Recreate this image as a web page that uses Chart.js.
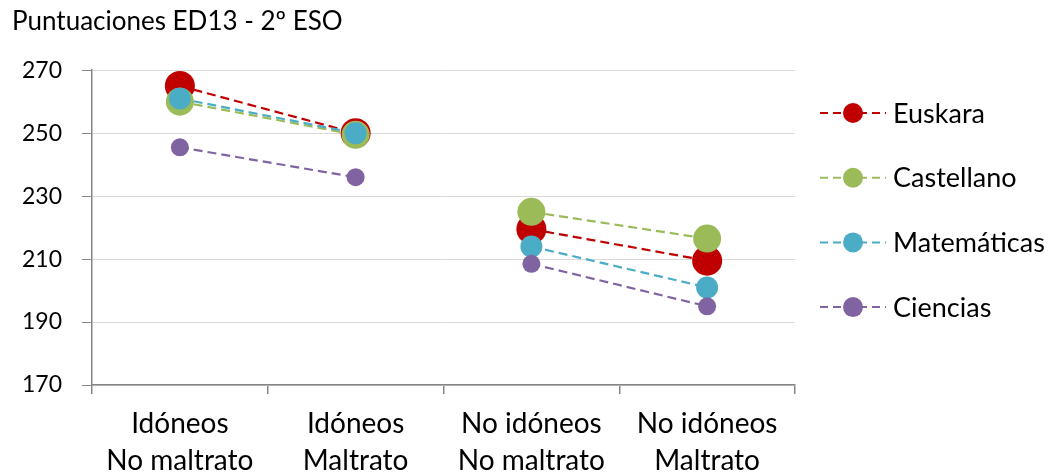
<!DOCTYPE html>
<html>
<head>
<meta charset="utf-8">
<script src="https://cdn.jsdelivr.net/npm/chart.js@4/dist/chart.umd.min.js"></script>
<style>
  html, body { margin: 0; padding: 0; background: #fff; }
</style>
</head>
<body>
<canvas id="chart" width="1054" height="475"></canvas>
<script>
const categories = [
    ['Idóneos', 'No maltrato'],
    ['Idóneos', 'Maltrato'],
    ['No idóneos', 'No maltrato'],
    ['No idóneos', 'Maltrato'],
];
const seriesNames = ['Euskara', 'Castellano', 'Matemáticas', 'Ciencias'];
const euskara = [265, 250, 219.5, 209.5];
const castellano = [260, 249.5, 225, 216.5];
const matematicas = [261, 250, 214, 201];
const ciencias = [245.5, 236, 208.5, 195];
const yTicks = [170, 190, 210, 230, 250, 270];

const colors = ['#C00000', '#9BBB59', '#4BACC6', '#8064A2'];
const radii = [15, 14, 11, 9];
const values = [euskara, castellano, matematicas, ciencias];

Chart.defaults.font.family = 'Lato';
Chart.defaults.color = '#000';

// legend with a dashed line and marker, drawn at the right
const sideLegend = {
    id: 'sideLegend',
    afterDraw(chart) {
        const ctx = chart.ctx;
        ctx.save();
        seriesNames.forEach((name, i) => {
            const y = 113 + i * 64.7;
            ctx.strokeStyle = colors[i];
            ctx.lineWidth = 2;
            ctx.setLineDash([8, 5]);
            ctx.beginPath();
            ctx.moveTo(820, y);
            ctx.lineTo(886, y);
            ctx.stroke();
            ctx.setLineDash([]);
            ctx.fillStyle = colors[i];
            ctx.beginPath();
            ctx.arc(853, y, 10, 0, Math.PI * 2);
            ctx.fill();
            ctx.fillStyle = '#000';
            ctx.font = '27px Lato';
            ctx.textBaseline = 'middle';
            ctx.textAlign = 'left';
            ctx.fillText(name, 893, y + 1);
        });
        ctx.restore();
    }
};

new Chart(document.getElementById('chart'), {
    type: 'line',
    data: {
        labels: categories,
        datasets: seriesNames.map((name, i) => ({
            label: name,
            data: values[i],
            borderColor: colors[i],
            backgroundColor: colors[i],
            borderWidth: 2.2,
            borderDash: [9, 5],
            pointRadius: radii[i],
            pointHoverRadius: radii[i],
            pointBorderWidth: 0,
            order: seriesNames.length - i,
            segment: {
                borderColor: c => c.p0DataIndex === 1 ? 'rgba(0,0,0,0)' : undefined,
            },
        })),
    },
    options: {
        responsive: false,
        animation: false,
        layout: {
            padding: { left: 12, right: 259, top: 0, bottom: 0 },
        },
        plugins: {
            legend: { display: false },
            tooltip: { enabled: false },
            title: {
                display: true,
                text: 'Puntuaciones ED13 - 2º ESO',
                align: 'start',
                color: '#000',
                font: { size: 26, weight: 'normal', lineHeight: 1.2 },
                padding: { top: 6, bottom: 33 },
            },
        },
        scales: {
            x: {
                offset: true,
                grid: {
                    offset: true,
                    drawOnChartArea: false,
                    tickLength: 9,
                    tickColor: '#868686',
                    lineWidth: 1.5,
                },
                border: { color: '#868686', width: 1.5 },
                ticks: {
                    font: { size: 28, lineHeight: 1.3 },
                    padding: 12,
                    maxRotation: 0,
                },
                afterFit(scale) { scale.height = 90; },
            },
            y: {
                min: 170,
                max: 270,
                afterBuildTicks(scale) {
                    scale.ticks = yTicks.map(v => ({ value: v }));
                },
                grid: {
                    color: '#d9d9d9',
                    lineWidth: 1,
                    tickLength: 10,
                    tickColor: '#868686',
                },
                border: { color: '#868686', width: 1.5 },
                ticks: {
                    font: { size: 23 },
                    padding: 20,
                },
                afterFit(scale) { scale.width = 80; },
            },
        },
    },
    plugins: [sideLegend],
});
</script>
</body>
</html>
